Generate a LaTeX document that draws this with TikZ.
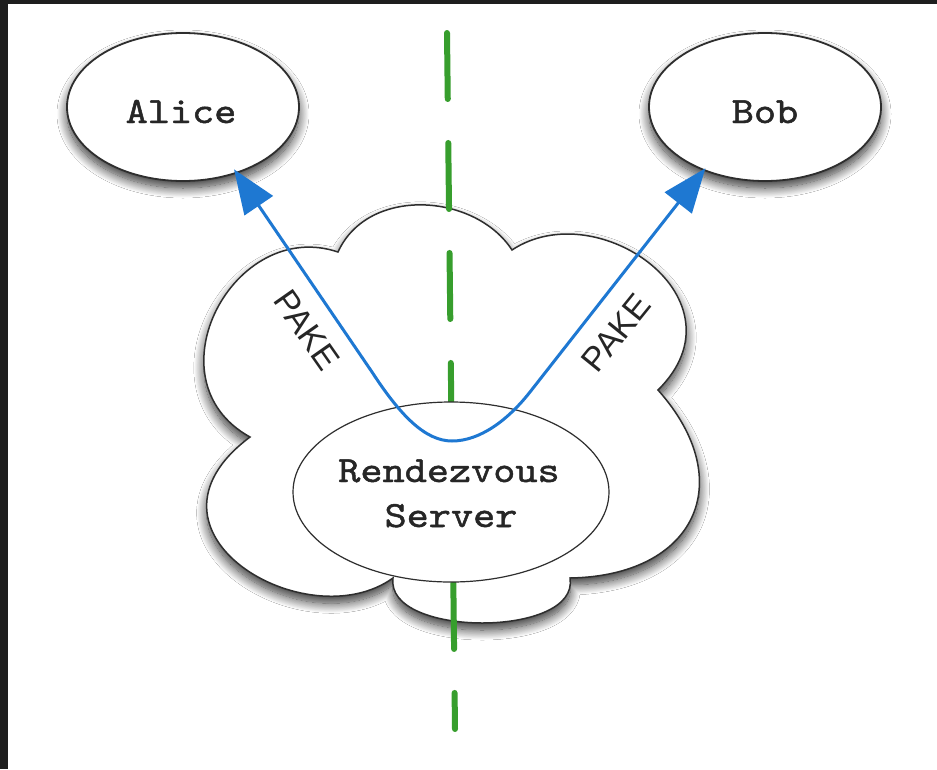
\documentclass[tikz,border=0pt]{standalone}
\usepackage{fontspec}
\setsansfont{Liberation Sans}
\newfontfamily\monof{lmmono10-regular.otf}[FakeStretch=1.14, FakeBold=1.3]
\usetikzlibrary{shapes.geometric,arrows.meta,shadows.blur}
\definecolor{bord}{HTML}{1E1E1E}
\definecolor{gline}{RGB}{55,158,45}
\definecolor{bline}{RGB}{30,120,210}
\definecolor{outl}{HTML}{2E2E2E}
\definecolor{txt}{HTML}{262626}
\begin{document}
\begin{tikzpicture}[x=1pt,y=-1pt,
  softshadow/.style={blur shadow={shadow xshift=0pt, shadow yshift=-7pt, shadow blur radius=10pt, shadow blur steps=16, shadow opacity=80}},
  person/.style={ellipse, draw=outl, line width=1.8pt, fill=white,
    minimum width=232pt, minimum height=148pt, inner sep=0pt, softshadow},
  server/.style={ellipse, draw=outl, line width=1.2pt, fill=white,
    minimum width=316pt, minimum height=180pt, inner sep=0pt},
  cloudshape/.style={draw=outl, line width=1.5pt, fill=white, softshadow},
  monotext/.style={font=\monof\fontsize{37}{45}\selectfont, text=txt, inner sep=0pt, anchor=base},
  pakelabel/.style={font=\sffamily\fontsize{34}{40}\selectfont, text=txt, inner sep=0pt},
  divider/.style={draw=gline, line width=6pt, line cap=round, dash pattern=on 66pt off 44pt},
  pakeline/.style={draw=bline, line width=3pt,
    {Triangle[length=44pt,width=34pt]}-{Triangle[length=44pt,width=34pt]}},
]
\useasboundingbox (0,0) rectangle (937,769);
\fill[white] (0,0) rectangle (937,769);
\fill[bord] (0,0) rectangle (937,4);
\fill[bord] (0,0) rectangle (8,769);

% cloud
\path[cloudshape] (338,252)
  .. controls (234,217) and (147,380) .. (250,437)
  .. controls (123,532) and (307,640) .. (393,578)
  .. controls (385,638) and (580,638) .. (570,578)
  .. controls (695,576) and (740,482) .. (658,390)
  .. controls (749,300) and (598,193) .. (512,250)
  .. controls (475,193) and (368,186) .. (338,252) -- cycle;

% dividing line
\coordinate (dtop) at (447,33);
\coordinate (dbot) at (455,729);
\draw[divider] (dtop) -- (dbot);

% nodes
\node[person] (alice) at (183,107) {};
\node[monotext] (alicet) at (181,123) {Alice};
\node[person] (bob) at (765,107) {};
\node[monotext] (bobt) at (765,123) {Bob};
\node[server] (rv) at (451,492) {};
\node[monotext] (rvt1) at (449,482) {Rendezvous};
\node[monotext] (rvt2) at (451,527) {Server};

% PAKE connector
\coordinate (lb) at (372,372);
\coordinate (bot) at (452,441);
\coordinate (rb) at (530,392);
\draw[pakeline, shorten <=-5pt, shorten >=-3pt] (alice.-51) -- (lb)
  .. controls (400,415) and (425,441) .. (bot)
  .. controls (480,441) and (508,420) .. (rb) -- (bob.-134);

\node[pakelabel, rotate=-55] (pakel) at (307,330) {PAKE};
\node[pakelabel, rotate=51] (paker) at (616,333) {PAKE};
\end{tikzpicture}
\end{document}
